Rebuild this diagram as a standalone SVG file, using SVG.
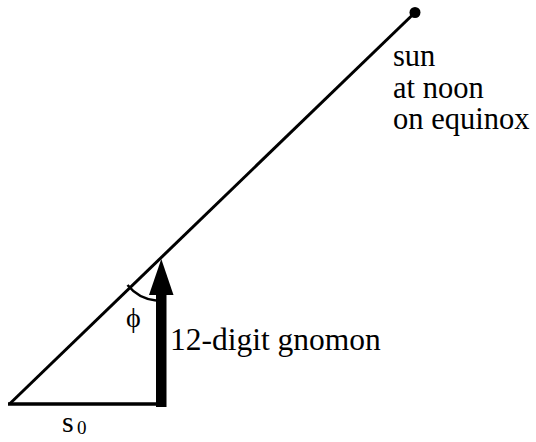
<svg xmlns="http://www.w3.org/2000/svg" width="536" height="442" viewBox="0 0 536 442">
<style>
.ln{stroke:#000;stroke-width:3;fill:none;stroke-linecap:butt}
text{font-family:'Liberation Serif','Times New Roman',serif;fill:#000}
</style>
<rect width="536" height="442" fill="#fff"/>
<g id="connectors">
<line class="ln" x1="9.5" y1="404" x2="415" y2="12.5"/>
<line class="ln" x1="8" y1="404" x2="160" y2="404" style="stroke-width:3.5"/>
<path class="ln" d="M127.5 285 A42 42 0 0 0 156 300.5" style="stroke-width:2.5"/>
</g>
<g id="sun">
<circle cx="415" cy="12.5" r="5.5" fill="#000"/>
<text font-size="30.5" x="393" y="66">sun</text>
<text font-size="30.5" x="393" y="98">at noon</text>
<text font-size="30.5" x="393" y="129">on equinox</text>
</g>
<g id="gnomon">
<rect x="156" y="294" width="10.5" height="113" fill="#000"/>
<polygon points="161.3,259 173.5,295 149,295" fill="#000"/>
<text font-size="31.5" x="170" y="350">12-digit gnomon</text>
</g>
<g id="angle">
<text font-size="28" x="126" y="327">ϕ</text>
</g>
<g id="shadow">
<text font-size="30" x="62" y="432">s</text>
<text font-size="19" x="77" y="434">0</text>
</g>
</svg>
